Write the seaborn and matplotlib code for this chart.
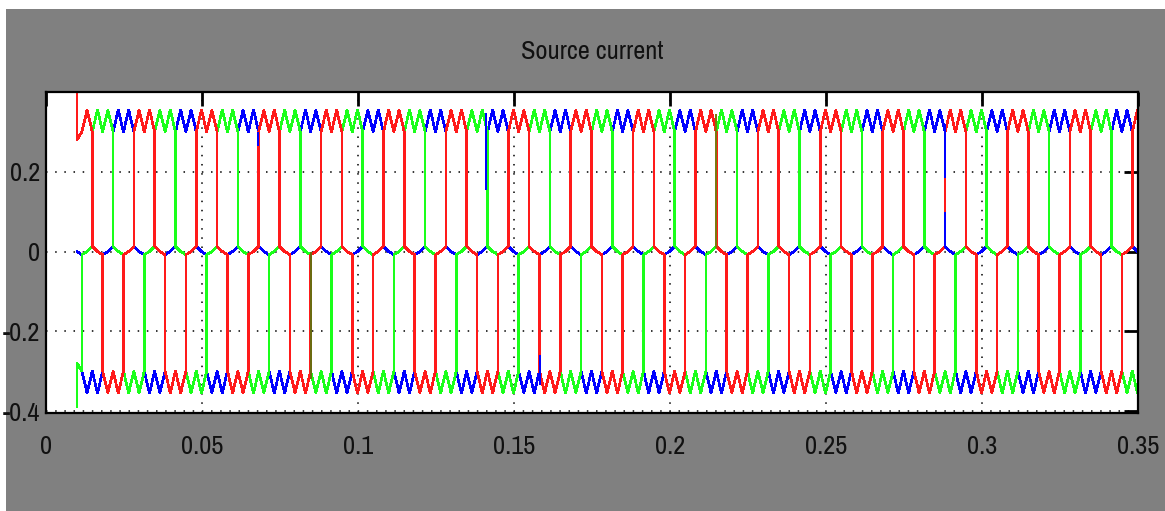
import numpy as np
import pandas as pd
import matplotlib
matplotlib.use("Agg")
import matplotlib.pyplot as plt
from matplotlib import font_manager as fm
from matplotlib.patches import Rectangle
import seaborn as sns

# ---------------- data ----------------
TITLE = "Source current"
PHASES = ["blue", "green", "red"]            # drawing order (red ends on top)
PHASE_COLORS = {"red": "#ff1a1a", "green": "#1aff1a", "blue": "#0000ff"}
# centre of the first positive 120-degree block of each phase (s)
BLOCK_CENTER = {"red": 0.0115, "green": 0.01817, "blue": 0.02483}
FREQ_HZ = 50.0                                # fundamental
T_START = 0.0099                              # first sample shown
T_END = 0.35
HIGH_PEAK = 0.355                             # ripple maxima of the conducting level
HIGH_TROUGH = 0.300                           # ripple minima of the conducting level
ZERO_AFTER_POS = 0.013                        # small step of the idle phase after leaving +I
ZERO_AFTER_NEG = -0.008                       # small step of the idle phase after leaving -I
START_SPIKE = {"red": (0.40, 0.28), "green": (-0.39, -0.28), "blue": (0.0, 0.0)}
# visible overlay glitches of the scope trace: time, y0, y1, colour
GLITCH_T = [0.1410, 0.2881, 0.2881, 0.2147, 0.0848, 0.0680, 0.1583]
GLITCH_Y0 = [0.348, 0.320, 0.100, 0.345, 0.000, 0.300, -0.260]
GLITCH_Y1 = [0.153, 0.185, 0.010, 0.010, -0.320, 0.265, -0.335]
GLITCH_C = ["#0000ff", "#0000ff", "#0000ff", "#7a7a10", "#6b6b10", "#0000ff", "#0000ff"]

X_TICKS = [0, 0.05, 0.1, 0.15, 0.2, 0.25, 0.3, 0.35]
X_TICKLABELS = ["0", "0.05", "0.1", "0.15", "0.2", "0.25", "0.3", "0.35"]
Y_TICKS = [-0.4, -0.2, 0, 0.2]
Y_TICKLABELS = ["-0.4", "-0.2", "0", "0.2"]

# ---------------- build the piecewise trace of each phase ----------------
T = 1.0 / FREQ_HZ
sixth = T / 6.0


def state(ph, t):
    """+1, 0 or -1 : position of the 120-degree conduction block."""
    ang = ((t - BLOCK_CENTER[ph]) / T) % 1.0 * 360.0
    if ang < 60 or ang >= 300:
        return 1
    if 120 <= ang < 240:
        return -1
    return 0


rows = []
b0 = BLOCK_CENTER["red"] - T / 6.0
k0 = int(np.floor((T_START - b0) / sixth))
bounds = [round(b0 + k * sixth, 9) for k in range(k0, k0 + 200)]
bounds = [b for b in bounds if b < T_END + sixth]
for ph in PHASES:
    rows.append((ph, T_START, START_SPIKE[ph][0]))
    rows.append((ph, T_START, START_SPIKE[ph][1]))
    for a, c in zip(bounds[:-1], bounds[1:]):
        mid = (a + c) / 2.0
        s = state(ph, mid)
        prev_s = state(ph, a - sixth / 2.0)
        if s == 1:
            vals = [HIGH_TROUGH, HIGH_PEAK, HIGH_TROUGH]
        elif s == -1:
            vals = [-HIGH_TROUGH, -HIGH_PEAK, -HIGH_TROUGH]
        else:
            if prev_s == 1:
                vals = [ZERO_AFTER_POS, 0.0, ZERO_AFTER_NEG]
            else:
                vals = [ZERO_AFTER_NEG, 0.0, ZERO_AFTER_POS]
        for tt, vv in zip([a, mid, c], vals):
            if T_START < tt <= T_END:
                rows.append((ph, tt, vv))

df = pd.DataFrame(rows, columns=["phase", "t", "i"])

# ---------------- fonts: prefer a narrow face like the scope's ----------------
sns.set_theme(style="white")
names = sorted({f.name for f in fm.fontManager.ttflist})
narrow = [n for n in names if ("Narrow" in n or "Condensed" in n)]
cond_stretch = [f.name for f in fm.fontManager.ttflist
                if str(f.stretch) in ("condensed", "semi-condensed", "extra-condensed")
                or (isinstance(f.stretch, int) and f.stretch < 500)]
if narrow:
    plt.rcParams["font.family"] = [narrow[0], "Liberation Sans", "DejaVu Sans"]
    LABEL_SIZE, TITLE_SIZE = 19, 19
elif cond_stretch:
    plt.rcParams["font.family"] = [cond_stretch[0], "Liberation Sans", "DejaVu Sans"]
    plt.rcParams["font.stretch"] = "condensed"
    LABEL_SIZE, TITLE_SIZE = 17, 17
else:
    plt.rcParams["font.family"] = ["Liberation Sans", "DejaVu Sans"]
    LABEL_SIZE, TITLE_SIZE = 15, 15

fig = plt.figure(figsize=(11.65, 5.11), dpi=100, facecolor="white")
bg = Rectangle((6 / 1165, 0), 1 - 6 / 1165, 1 - 9 / 511,
               transform=fig.transFigure, facecolor="#808080",
               edgecolor="none", zorder=-10)
fig.add_artist(bg)
ax = fig.add_axes([46 / 1165, 1 - 413 / 511, (1138 - 46) / 1165, (413 - 92) / 511])
ax.set_zorder(5)
ax.set_facecolor("white")

sns.lineplot(data=df, x="t", y="i", hue="phase", hue_order=PHASES,
             palette=PHASE_COLORS, estimator=None, sort=False,
             linewidth=1.2, legend=False, antialiased=False, ax=ax)
ax.vlines(GLITCH_T, GLITCH_Y0, GLITCH_Y1, colors=GLITCH_C, linewidth=1.2,
          zorder=3, antialiased=False)

ax.set_xlim(0, 0.35)
ax.set_ylim(-0.405, 0.40)
ax.set_xticks(X_TICKS)
ax.set_xticklabels(X_TICKLABELS)
ax.set_yticks(Y_TICKS)
ax.set_yticklabels(Y_TICKLABELS)
ax.set_xlabel("")
ax.set_ylabel("")
ax.grid(True, color="black", linestyle=(0, (1, 5)), linewidth=1.1)
ax.set_axisbelow(True)
ax.tick_params(axis="both", direction="in", length=10, width=2, color="black",
               top=True, right=True, labelsize=LABEL_SIZE, labelcolor="#111111")
ax.tick_params(axis="x", pad=16)
ax.tick_params(axis="y", pad=4)
for sp in ax.spines.values():
    sp.set_color("black")
    sp.set_linewidth(1.6)
    sp.set_visible(True)
ax.set_title(TITLE, fontsize=TITLE_SIZE, color="#111111", pad=24)

fig.savefig("out.png", dpi=100, facecolor=fig.get_facecolor())
